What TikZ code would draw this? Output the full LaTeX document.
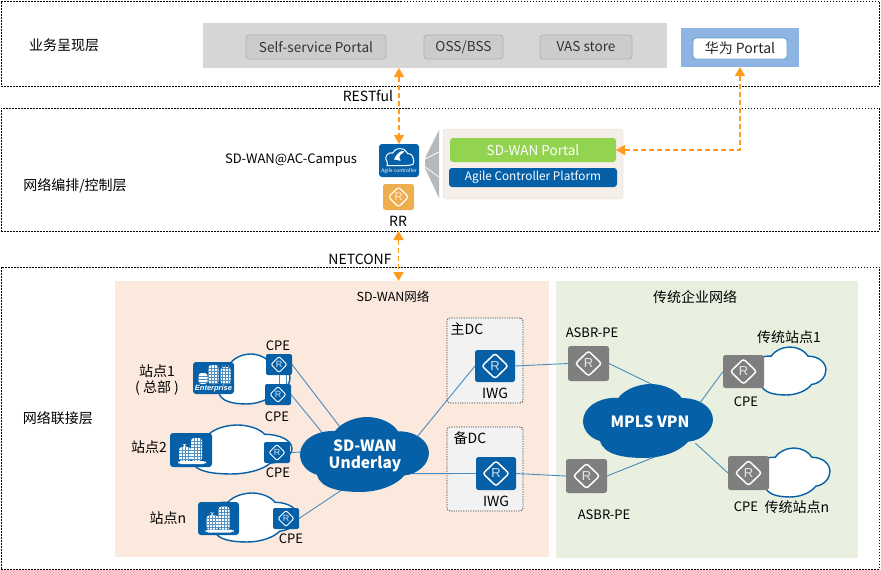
\documentclass[tikz,border=0pt]{standalone}
\usepackage{fontspec}
\setmainfont{Noto Sans CJK SC}
\newfontfamily\rfont{Liberation Sans}
\usetikzlibrary{arrows.meta,calc,shapes.geometric}
\pgfdeclarelayer{panels}
\pgfdeclarelayer{links}
\pgfsetlayers{panels,links,main}
\definecolor{hwblue}{HTML}{0560A8}
\definecolor{hwgray}{HTML}{7F7F7F}
\definecolor{hworange}{HTML}{FF9A1F}
\definecolor{hwamber}{HTML}{EFAE4E}
\definecolor{hwlight}{HTML}{8DB4E2}
\definecolor{linkblue}{HTML}{4A8BBE}
\newcommand{\fs}[1]{\fontsize{#1}{#1}\selectfont}
\newcommand{\bx}[7]{\node[inner sep=0pt,outer sep=0pt,minimum width={(#5-#3)*1pt},minimum height={(#6-#4)*1pt},#1] (#2) at ({(#3+#5)/2},{(#4+#6)/2}) {#7};}
\newcommand{\cloudpath}{(0,50) .. controls (0,30) and (14,17) .. (27,19) .. controls (33,5) and (45,0) .. (52,0) .. controls (62,0) and (72,8) .. (76,19) .. controls (90,19) and (100,32) .. (100,48) .. controls (100,62) and (92,76) .. (81,78) .. controls (74,92) and (60,100) .. (47,100) .. controls (32,100) and (16,96) .. (13,77) .. controls (5,73) and (0,62) .. (0,50) -- cycle}
\newcommand{\cloudshape}[5]{\pgfmathsetmacro\cw{(#4-#2)*0.01}\pgfmathsetmacro\ch{(#5-#3)*0.01}\path[#1,shift={(#2,#3)},x=\cw pt,y=-\ch pt] \cloudpath;}
\tikzset{
 layerbox/.style={draw=black,fill=white,line width=0.7pt,dash pattern=on 1.5pt off 1.5pt},
 graybtn/.style={draw=black!30,fill=black!20,rounded corners=3pt,line width=0.8pt,text=black!80,font=\fs{13.6}},
 lbl/.style={inner sep=0pt,text=black,font=\fs{13}},
 cjk/.style={inner sep=0pt,text=black,font=\fs{14}},
 dcbox/.style={draw=black!75,fill=black!5,rounded corners=3pt,line width=0.8pt,dash pattern=on 1.2pt off 1.2pt},
 whitecloud/.style={fill=white,draw=hwblue,line width=1.4pt},
 router/.style={fill=#1,rounded corners=2.5pt,text=white!80!#1,font=\rfont\fs{13},
  path picture={\draw[white,line width=1.5pt] (path picture bounding box.center) ++(-13,0) -- ++(13,-12.5) -- ++(13,12.5) -- ++(-13,12.5) -- cycle;}},
 router/.default=hwblue,
 srouter/.style={fill=hwblue,rounded corners=2pt,text=white!85!hwblue,font=\rfont\fs{9},
  path picture={\draw[white,line width=1pt] (path picture bounding box.center) ++(-8,0) -- ++(8,-8) -- ++(8,8) -- ++(-8,8) -- cycle;}},
 building/.style={fill=hwblue,rounded corners=3pt,
  path picture={\begin{scope}[shift={(path picture bounding box.center)}]
   \fill[white] (-13,11) rectangle (15,14);
   \fill[white] (-12,-3) rectangle (0,11);
   \fill[white] (-7,-6) rectangle (-6,-3);
   \fill[white] (0,-12) rectangle (11,11);
   \foreach \yy in {-9,-6,...,9}{\draw[hwblue!70,line width=0.4pt] (0,\yy) -- (11,\yy);}
   \foreach \yy in {0,3,6,9}{\draw[hwblue!70,line width=0.4pt] (-12,\yy) -- (0,\yy);}
   \foreach \xx in {3,6,9}{\draw[hwblue!70,line width=0.4pt] (\xx,-12) -- (\xx,11);}
   \foreach \xx in {-9,-6,-3}{\draw[hwblue!70,line width=0.4pt] (\xx,-3) -- (\xx,11);}
  \end{scope}}},
 entbuilding/.style={fill=hwblue,rounded corners=3pt,
  path picture={\begin{scope}[shift={(path picture bounding box.center)}]
   \fill[white] (-15,-5) rectangle (-6,6);
   \fill[white] (-5,-13) rectangle (5,6);
   \fill[white] (7,-11) rectangle (17,6);
   \foreach \yy in {-10,-7,...,5}{\draw[hwblue!70,line width=0.4pt] (-5,\yy) -- (5,\yy) (7,\yy) -- (17,\yy);}
   \foreach \yy in {-2,1,4}{\draw[hwblue!70,line width=0.4pt] (-15,\yy) -- (-6,\yy);}
   \foreach \xx in {-2,1,4,9,12,15}{\draw[hwblue!70,line width=0.4pt] (\xx,-13) -- (\xx,6);}
  \end{scope}}},
 link/.style={linkblue,line width=0.9pt},
 orangedash/.style={hworange,line width=1.6pt,dash pattern=on 5pt off 3pt},
 orangelink/.style={orangedash,{Triangle[length=9pt,width=10pt]}-{Triangle[length=9pt,width=10pt]}},
}
\begin{document}
\begin{tikzpicture}[x=1pt,y=-1pt]
\useasboundingbox (0,0) rectangle (881,570);
\begin{pgfonlayer}{panels}
\bx{layerbox}{layA}{1}{1}{879}{86}{}
\bx{layerbox}{layB}{1}{108}{879}{231}{}
\bx{layerbox}{layC}{1}{267}{879}{569}{}
\bx{fill={rgb,255:red,251;green,233;blue,221}}{sdpanel}{115}{281}{549}{557}{}
\bx{fill={rgb,255:red,233;green,240;blue,223}}{oldpanel}{556}{281}{858}{558}{}
\bx{dcbox}{dc1}{447}{318}{523}{403}{}
\bx{dcbox}{dc2}{447}{427}{523}{511}{}
\end{pgfonlayer}
\node[cjk] (tA) at (64,45) {业务呈现层};
\node[cjk] (tB) at (75,186) {网络编排/控制层};
\node[cjk] (tC) at (58,418) {网络联接层};
% presentation
\bx{fill=black!16}{svc}{203}{23}{667}{68}{}
\bx{graybtn}{b1}{246}{35}{386}{59}{Self-service Portal}
\bx{graybtn}{b2}{424}{35}{503}{59}{OSS/BSS}
\bx{graybtn}{b3}{540}{35}{632}{59}{VAS store}
\bx{fill=hwlight}{hwp}{681}{28}{799}{67}{}
\bx{draw=hwblue!60,fill=white,rounded corners=3pt,line width=0.8pt,font=\fs{14},text=black!85}{hwb}{693}{38}{787}{59}{华为 Portal}
% control layer
\fill[black!28] (439,130) -- (439,198) -- (425,168) -- (425,158) -- cycle;
\draw[white,line width=0.7pt] (425,159) -- (439,152) (425,167) -- (439,177);
\bx{draw=black!15,fill={rgb,255:red,245;green,238;blue,233},rounded corners=3pt}{acp}{443}{129}{623}{199}{}
\bx{fill={rgb,255:red,146;green,211;blue,80},rounded corners=3pt,text=white,font=\fs{13.5}}{sdp}{450}{138}{616}{162}{SD-WAN Portal}
\bx{fill=hwblue,rounded corners=3pt,text=white,font=\fs{11.8}}{agp}{449}{168}{617}{187}{Agile Controller Platform}
\bx{fill=hwblue,rounded corners=3pt,
  path picture={\begin{scope}[shift={(path picture bounding box.center)},scale=1.1]
  \draw[white,line width=1pt] (-12,1) .. controls (-16,-5) and (-9,-8) .. (-6,-6) .. controls (-4,-13) and (6,-13) .. (8,-6) .. controls (14,-7) and (16,3) .. (11,5) -- (-9,5) .. controls (-11,5) and (-12,3) .. (-12,1);
  \fill[white] (-5,-1) .. controls (-2,-8) and (3,-10) .. (7,-9) .. controls (2,-7) and (-1,-4) .. (3,1) .. controls (0,0) and (-3,-1) .. (-5,-1);
  \end{scope}}}{ac}{379}{144}{419}{177}{}
\node[text=white,font=\fs{5},inner sep=0pt] (actxt) at (399,170.7) {Agile controller};
\bx{router=hwamber,font=\rfont\fs{11},path picture={\draw[white,line width=1.1pt] (path picture bounding box.center) ++(-10,0) -- ++(10,-10) -- ++(10,10) -- ++(-10,10) -- cycle;}}{rr}{383}{184}{414}{210}{R}
\node[cjk] (trr) at (398,221) {RR};
\node[lbl] (tac) at (291,160) {SD-WAN@AC-Campus};
\node[cjk] (trest) at (368,96) {RESTful};
\node[cjk] (tnet) at (360,259) {NETCONF};
% panel captions
\node[inner sep=0pt,font=\fs{12.5}] (tsd) at (393,297) {SD-WAN网络};
\node[cjk] (told) at (695,297) {传统企业网络};
\node[cjk] (t1) at (467,329) {主DC};
\node[cjk] (t2) at (470,438) {备DC};
% clouds
\cloudshape{fill=hwblue}{300}{417}{429}{492}
\cloudshape{fill=hwblue}{583}{384}{713}{458}
\cloudshape{whitecloud}{208}{354}{290}{404}
\cloudshape{whitecloud}{178}{425}{292}{474}
\cloudshape{whitecloud}{202}{493}{298}{542}
\cloudshape{whitecloud}{751}{347}{826}{395}
\cloudshape{whitecloud}{755}{448}{830}{497}
% hub nodes
\node[ellipse,minimum width=100pt,minimum height=60pt,inner sep=0pt,outer sep=0pt,text=white,align=center,font=\bfseries\fs{15.5}] (sdwan) at (365,456) {SD-WAN\\[2pt]Underlay};
\node[ellipse,minimum width=114pt,minimum height=70pt,inner sep=0pt,outer sep=0pt,text=white,font=\bfseries\fs{15.5}] (mpls) at (650,422) {MPLS VPN};
% buildings
\bx{entbuilding}{bd1}{193}{362}{234}{394}{}
\node[text=white,font=\rfont\bfseries\itshape\fs{7.5},inner sep=0pt] (ent) at (213.5,388.5) {Enterprise};
\bx{building}{bd2}{170}{433}{212}{467}{}
\bx{building}{bdn}{198}{502}{239}{535}{}
% routers
\bx{srouter}{cpe1}{266}{354}{292}{375}{R}
\bx{srouter}{cpe2}{265}{384}{291}{405}{R}
\bx{srouter}{cpe3}{264}{442}{290}{463}{R}
\bx{srouter}{cpen}{273}{508}{299}{529}{R}
\bx{router}{iwg1}{475}{350}{515}{382}{R}
\bx{router}{iwg2}{476}{457}{516}{490}{R}
\bx{router=hwgray}{asbr1}{568}{346}{609}{381}{R}
\bx{router=hwgray}{asbr2}{566}{459}{607}{493}{R}
\bx{router=hwgray}{oc1}{723}{355}{764}{388}{R}
\bx{router=hwgray}{oc2}{728}{456}{769}{490}{R}
% connectors
\begin{pgfonlayer}{links}
\draw[link] (cpe1.east) -- (sdwan.131);
\draw[link] (cpe2.east) -- (sdwan.154);
\draw[link] (cpe3.east) -- (sdwan.175);
\draw[link] (cpen.east) -- (sdwan.242);
\draw[link] (iwg1.west) -- (sdwan.15);
\draw[link] (iwg2.west) -- (sdwan.-23);
\draw[link] (iwg1.east) -- (asbr1.west);
\draw[link] (iwg2.east) -- (asbr2.west);
\draw[link] (asbr1.east) -- (mpls.77);
\draw[link] (asbr2.east) -- (mpls.-82);
\draw[link] (oc1.west) -- (mpls.20);
\draw[link] (oc2.west) -- (mpls.-25);
\end{pgfonlayer}
\draw[link,line width=0.7pt] (cpe1.south -| 279.5,0) -- (cpe2.north -| 279.5,0);
\draw[link,line width=0.7pt] (cpe1.south -| 286,0) -- (cpe2.north -| 286,0);
\draw[orangelink] (svc.south -| ac.north) -- (ac.north);
\draw[orangelink] (rr.south |- layB.south) -- (rr.south |- sdpanel.north);
\draw[orangelink] (hwp.south) |- (sdp.east);
% labels
\node[lbl] (l1) at (278,346) {CPE};
\node[lbl] (l2) at (277,417) {CPE};
\node[lbl] (l3) at (278,473) {CPE};
\node[lbl] (l4) at (291,539) {CPE};
\node[cjk] (l5) at (157,371) {站点1};
\node[cjk] (l6) at (157,388) {( 总部 )};
\node[cjk] (l7) at (149,447) {站点2};
\node[cjk] (l8) at (168,518) {站点n};
\node[cjk] (l9) at (495,393) {IWG};
\node[cjk] (l10) at (496,501) {IWG};
\node[lbl] (l11) at (592,333) {ASBR-PE};
\node[lbl] (l12) at (604,515) {ASBR-PE};
\node[cjk] (l13) at (789,337) {传统站点1};
\node[lbl] (l14) at (746,402) {CPE};
\node[lbl] (l15) at (746,507) {CPE};
\node[cjk] (l16) at (797,507) {传统站点n};
\end{tikzpicture}
\end{document}
